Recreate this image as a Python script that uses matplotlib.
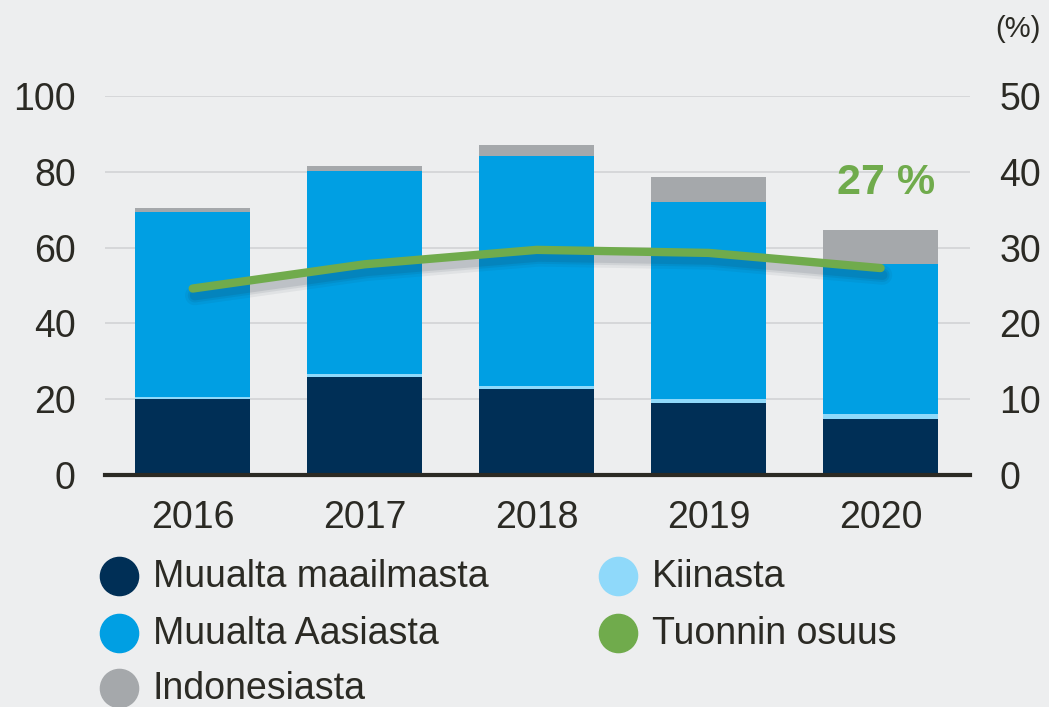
import matplotlib
matplotlib.use("Agg")
import matplotlib.pyplot as plt
import matplotlib.transforms as mtransforms
from matplotlib.lines import Line2D
import numpy as np

plt.rcParams['font.family'] = ['Liberation Sans', 'DejaVu Sans']

years = ["2016", "2017", "2018", "2019", "2020"]
muualta_maailmasta = [20.1, 25.8, 22.8, 18.9, 14.8]
kiinasta = [0.5, 0.8, 0.8, 1.1, 1.3]
muualta_aasiasta = [48.9, 53.6, 60.6, 52.1, 39.5]
indonesiasta = [1.0, 1.3, 3.0, 6.5, 9.0]
tuonnin_osuus = [24.6, 27.8, 29.7, 29.3, 27.3]
legend_labels = ["Muualta maailmasta", "Muualta Aasiasta", "Indonesiasta",
                 "Kiinasta", "Tuonnin osuus"]

c_dark = "#002f56"
c_light = "#8fd9fa"
c_blue = "#009fe3"
c_grey = "#a5a8ab"
c_green = "#70ab4c"
c_text = "#2b2a24"
bg = "#edeeef"

W, H = 1049, 707
fig = plt.figure(figsize=(W/100, H/100), dpi=100, facecolor=bg)
ax = fig.add_axes([105/W, 1-475/H, 865/W, 379/H])
ax.set_facecolor('none')

x = np.arange(len(years))
w = 0.67
b1 = np.array(muualta_maailmasta)
b2 = b1 + np.array(kiinasta)
b3 = b2 + np.array(muualta_aasiasta)
ax.bar(x, muualta_maailmasta, w, color=c_dark, zorder=2)
ax.bar(x, kiinasta, w, bottom=b1, color=c_light, zorder=2)
ax.bar(x, muualta_aasiasta, w, bottom=b2, color=c_blue, zorder=2)
ax.bar(x, indonesiasta, w, bottom=b3, color=c_grey, zorder=2)

ax.set_xlim(-0.51, 4.52)
ax.set_ylim(0, 100)
ax.set_yticks([0, 20, 40, 60, 80, 100])
ax.grid(axis='y', color='#d2d3d5', linewidth=1.2, zorder=0)
for s in ['top', 'right', 'left']:
    ax.spines[s].set_visible(False)
ax.spines['bottom'].set_color(c_text)
ax.spines['bottom'].set_linewidth(3)
ax.spines['bottom'].set_zorder(5)
ax.set_xticks(x)
ax.set_xticklabels(years)
ax.tick_params(axis='both', length=0, labelsize=27, colors=c_text)
ax.tick_params(axis='x', pad=18)
ax.tick_params(axis='y', pad=21)

ax2 = ax.twinx()
ax2.set_ylim(0, 50)
ax2.set_yticks([0, 10, 20, 30, 40, 50])
for s in ax2.spines.values():
    s.set_visible(False)
ax2.tick_params(axis='y', length=0, labelsize=27, colors=c_text, pad=21)
shadow_tr = mtransforms.offset_copy(ax2.transData, fig=fig, x=2, y=-7, units='dots')
for lw, a in [(14, 0.06), (10, 0.08), (7, 0.1)]:
    ax2.plot(x, tuonnin_osuus, color='#1a2a3a', lw=lw, alpha=a, transform=shadow_tr,
             solid_capstyle='round', zorder=3)
ax2.plot(x, tuonnin_osuus, color=c_green, lw=6, solid_capstyle='round',
         solid_joinstyle='round', zorder=4)

fig.text(886/W, 1-183/H, "27 %", color=c_green, fontsize=31, fontweight='bold',
         ha='center', va='center')
fig.text(1018/W, 1-29/H, "(%)", color=c_text, fontsize=21, ha='center', va='center')

legend_colors = [c_dark, c_blue, c_grey, c_light, c_green]
legend_pos = [(119, 576), (119, 633), (119, 688), (618, 576), (618, 633)]
for lab, col, (px, py) in zip(legend_labels, legend_colors, legend_pos):
    fig.add_artist(Line2D([px/W], [1-py/H], transform=fig.transFigure, marker='o',
                          ls='none', ms=27.5, mfc=col, mec=col))
    fig.text((px+34)/W, 1-(py+1)/H, lab, color=c_text, fontsize=27,
             ha='left', va='center')

fig.savefig("out.png", dpi=100, facecolor=bg)
